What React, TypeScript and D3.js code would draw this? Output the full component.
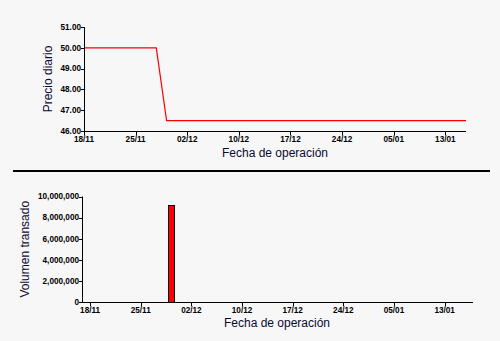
import React from "react";
import * as d3 from "d3";

const dates = [
  "18/11", "19/11", "20/11", "21/11", "24/11", "25/11", "26/11", "27/11", "28/11",
  "01/12", "02/12", "03/12", "04/12", "05/12", "09/12", "10/12", "11/12", "12/12",
  "15/12", "16/12", "17/12", "18/12", "19/12", "22/12", "23/12", "24/12", "26/12",
  "29/12", "30/12", "02/01", "05/01", "06/01", "07/01", "08/01", "09/01", "13/01",
  "14/01", "15/01",
];
const prices = [
  50, 50, 50, 50, 50, 50, 50, 50, 46.5,
  46.5, 46.5, 46.5, 46.5, 46.5, 46.5, 46.5, 46.5, 46.5,
  46.5, 46.5, 46.5, 46.5, 46.5, 46.5, 46.5, 46.5, 46.5,
  46.5, 46.5, 46.5, 46.5, 46.5, 46.5, 46.5, 46.5, 46.5,
  46.5, 46.5,
];
const volumes = [
  0, 0, 0, 0, 0, 0, 0, 0, 9150000,
  0, 0, 0, 0, 0, 0, 0, 0, 0,
  0, 0, 0, 0, 0, 0, 0, 0, 0,
  0, 0, 0, 0, 0, 0, 0, 0, 0,
  0, 0,
];
const xTickLabels = ["18/11", "25/11", "02/12", "10/12", "17/12", "24/12", "05/01", "13/01"];
const priceTicks = [46, 47, 48, 49, 50, 51];
const volumeTicks = [0, 2000000, 4000000, 6000000, 8000000, 10000000];

const tickFont = {
  fontFamily: "'Liberation Sans', Arial, sans-serif",
  fontSize: 8.2,
  fontWeight: 700 as const,
  fill: "#000",
};
const titleFont = { fontFamily: "'Liberation Sans', Arial, sans-serif", fontSize: 12, fill: "#0a0a33" };

export default function App() {
  // Top chart scales
  const xTop = d3.scaleLinear().domain([0, dates.length - 1]).range([84, 466]);
  const yTop = d3.scaleLinear().domain([46, 51]).range([131, 27]);
  // Bottom chart scales
  const xBot = d3.scaleLinear().domain([-0.8, dates.length - 0.2]).range([82, 473]);
  const yBot = d3.scaleLinear().domain([0, 10000000]).range([302, 196.5]);

  const line = d3
    .line<number>()
    .x((_, i) => xTop(i))
    .y((d) => yTop(d));

  const fmtPrice = d3.format(".2f");
  const fmtVol = d3.format(",");
  const tickIdx = xTickLabels.map((l) => dates.indexOf(l));
  const barW = 6;

  return (
    <svg
      width={500}
      height={341}
      style={{ position: "absolute", left: 0, top: 0, background: "#f7f7f7" }}
    >
      <rect x={0} y={0} width={500} height={341} fill="#f7f7f7" />

      {/* ---------- Top chart ---------- */}
      <path d={line(prices) || ""} fill="none" stroke="#ff0000" strokeWidth={1.2} />
      {/* y axis */}
      <line x1={84.5} x2={84.5} y1={yTop(51)} y2={yTop(46) + 0.5} stroke="#000" />
      {priceTicks.map((t) => (
        <g key={"pt" + t}>
          <line x1={81} x2={84.5} y1={Math.round(yTop(t)) + 0.5} y2={Math.round(yTop(t)) + 0.5} stroke="#000" />
          <text x={81} y={yTop(t)} dy="0.35em" textAnchor="end" {...tickFont}>
            {fmtPrice(t)}
          </text>
        </g>
      ))}
      {/* x axis */}
      <line x1={84} x2={466} y1={131.5} y2={131.5} stroke="#000" />
      {tickIdx.map((i, k) => (
        <g key={"xt" + k}>
          <line x1={Math.round(xTop(i)) + 0.5} x2={Math.round(xTop(i)) + 0.5} y1={131.5} y2={135} stroke="#000" />
          <text x={xTop(i)} y={142} textAnchor="middle" {...tickFont}>
            {xTickLabels[k]}
          </text>
        </g>
      ))}
      <text x={275} y={157} textAnchor="middle" {...titleFont}>
        Fecha de operación
      </text>
      <text
        transform={`translate(52, ${(yTop(51) + yTop(46)) / 2}) rotate(-90)`}
        textAnchor="middle"
        {...titleFont}
      >
        Precio diario
      </text>

      {/* separator */}
      <line x1={13} x2={490} y1={171} y2={171} stroke="#000" strokeWidth={2} />

      {/* ---------- Bottom chart ---------- */}
      {volumes.map((v, i) =>
        v > 0 ? (
          <rect
            key={"b" + i}
            x={Math.round(xBot(i) - barW / 2) + 0.5}
            y={Math.round(yBot(v)) + 0.5}
            width={barW}
            height={Math.round(yBot(0)) - Math.round(yBot(v))}
            fill="#ff0000"
            stroke="#000"
          />
        ) : null
      )}
      {/* y axis */}
      <line x1={82.5} x2={82.5} y1={yBot(10000000)} y2={302.5} stroke="#000" />
      {volumeTicks.map((t) => (
        <g key={"vt" + t}>
          <line x1={79} x2={82.5} y1={Math.round(yBot(t)) + 0.5} y2={Math.round(yBot(t)) + 0.5} stroke="#000" />
          <text x={79} y={yBot(t)} dy="0.35em" textAnchor="end" {...tickFont}>
            {fmtVol(t)}
          </text>
        </g>
      ))}
      {/* x axis */}
      <line x1={82} x2={473} y1={302.5} y2={302.5} stroke="#000" />
      {tickIdx.map((i, k) => (
        <g key={"bxt" + k}>
          <line x1={Math.round(xBot(i)) + 0.5} x2={Math.round(xBot(i)) + 0.5} y1={302.5} y2={306} stroke="#000" />
          <text x={xBot(i)} y={313} textAnchor="middle" {...tickFont}>
            {xTickLabels[k]}
          </text>
        </g>
      ))}
      <text x={277} y={327} textAnchor="middle" {...titleFont}>
        Fecha de operación
      </text>
      <text
        transform={`translate(29, ${(yBot(10000000) + yBot(0)) / 2}) rotate(-90)`}
        textAnchor="middle"
        {...titleFont}
      >
        Volumen transado
      </text>
    </svg>
  );
}
